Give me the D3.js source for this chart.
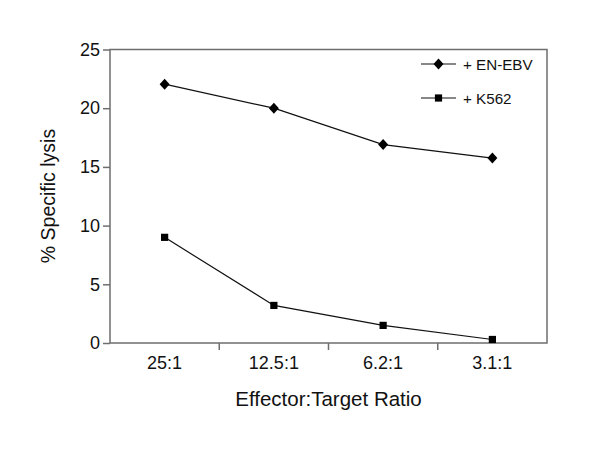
<!DOCTYPE html>
<html>
<head>
<meta charset="utf-8">
<script src="https://cdn.jsdelivr.net/npm/d3@7"></script>
<style>
  body { margin: 0; background: #fff; }
  text { font-family: "Liberation Sans", Arial, sans-serif; fill: #111; }
</style>
</head>
<body>
<svg id="chart" width="600" height="461"></svg>
<script>
const categories = ['25:1', '12.5:1', '6.2:1', '3.1:1'];
const enEbv = [22.05, 20.0, 16.9, 15.75];
const k562 = [9.0, 3.2, 1.5, 0.3];
const yTicks = [0, 5, 10, 15, 20, 25];
const seriesNames = ['+ EN-EBV', '+ K562'];

const svg = d3.select('#chart');
const margin = { left: 110, top: 49.5, right: 53, bottom: 118 };
const width = 600 - margin.left - margin.right;
const height = 461 - margin.top - margin.bottom;
const axisColor = '#6e6e6e';

const g = svg.append('g')
    .attr('transform', `translate(${margin.left},${margin.top})`);

const x = d3.scaleBand().domain(categories).range([0, width]);
const y = d3.scaleLinear().domain([0, 25]).range([height, 0]);
const cx = (d) => x(d) + x.bandwidth() / 2;

// frame
g.append('rect')
    .attr('width', width)
    .attr('height', height)
    .attr('fill', 'none')
    .attr('stroke', axisColor)
    .attr('stroke-width', 1.5);

// y axis
const yAxis = g.append('g')
    .call(d3.axisLeft(y).tickValues(yTicks).tickSize(7).tickPadding(3));
yAxis.select('.domain').remove();
yAxis.selectAll('line').attr('stroke', axisColor).attr('stroke-width', 1.5);
yAxis.selectAll('text')
    .attr('font-size', 18)
    .attr('font-family', '"Liberation Sans", Arial, sans-serif')
    .attr('fill', '#111');

// x axis: ticks at band boundaries, labels centred in bands
const xg = g.append('g').attr('transform', `translate(0,${height})`);
categories.slice(1).forEach((c) => {
    xg.append('line')
        .attr('x1', x(c)).attr('x2', x(c))
        .attr('y1', 0).attr('y2', 7)
        .attr('stroke', axisColor)
        .attr('stroke-width', 1.5);
});
xg.selectAll('text.cat')
    .data(categories)
    .join('text')
    .attr('class', 'cat')
    .attr('x', cx)
    .attr('y', 26)
    .attr('text-anchor', 'middle')
    .attr('font-size', 18)
    .text((d) => d);

// axis titles
svg.append('text')
    .attr('x', margin.left + width / 2)
    .attr('y', 406)
    .attr('text-anchor', 'middle')
    .attr('font-size', 20.5)
    .text('Effector:Target Ratio');

svg.append('text')
    .attr('transform', `translate(55,${196}) rotate(-90)`)
    .attr('text-anchor', 'middle')
    .attr('font-size', 19.5)
    .text('% Specific lysis');

// lines and markers
const line = d3.line()
    .x((d, i) => cx(categories[i]))
    .y((d) => y(d));

const wideDiamond = {
    draw(context, size) {
        const w = Math.sqrt(size) / 2;
        const h = w * 1.1;
        context.moveTo(0, -h);
        context.lineTo(w, 0);
        context.lineTo(0, h);
        context.lineTo(-w, 0);
        context.closePath();
    }
};
const diamond = d3.symbol().type(wideDiamond).size(100);
const square = d3.symbol().type(d3.symbolSquare).size(52);

[[enEbv, diamond], [k562, square]].forEach(([vals, sym]) => {
    g.append('path')
        .datum(vals)
        .attr('d', line)
        .attr('fill', 'none')
        .attr('stroke', '#111')
        .attr('stroke-width', 1.2);
    g.selectAll(null)
        .data(vals)
        .join('path')
        .attr('transform', (d, i) => `translate(${cx(categories[i])},${y(d)})`)
        .attr('d', sym)
        .attr('fill', '#000');
});

// legend
const legend = svg.append('g');
[[seriesNames[0], diamond, 64], [seriesNames[1], square, 98]].forEach(([name, sym, ly]) => {
    legend.append('line')
        .attr('x1', 421).attr('x2', 456)
        .attr('y1', ly).attr('y2', ly)
        .attr('stroke', '#111')
        .attr('stroke-width', 1.2);
    legend.append('path')
        .attr('transform', `translate(438.5,${ly})`)
        .attr('d', sym)
        .attr('fill', '#000');
    legend.append('text')
        .attr('x', 463)
        .attr('y', ly + 5.5)
        .attr('font-size', 15.2)
        .text(name);
});
</script>
</body>
</html>
